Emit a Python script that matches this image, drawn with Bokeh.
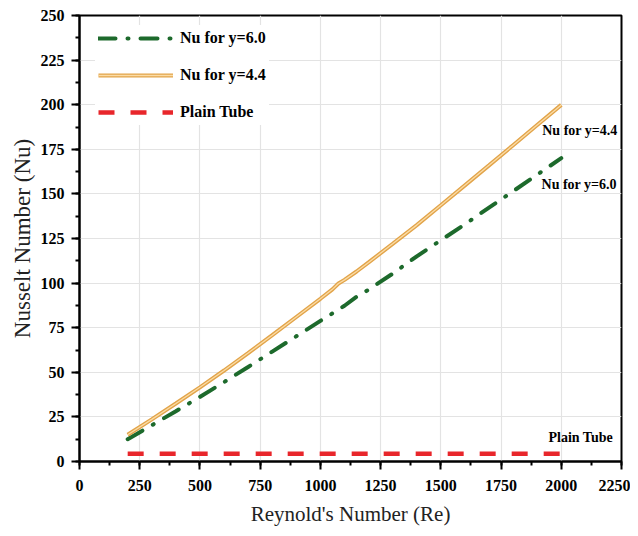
from bokeh.plotting import figure
from bokeh.models import (Legend, LegendItem, Label, SingleIntervalTicker, Range1d)
from bokeh.embed import file_html
from bokeh.resources import INLINE

# ---- data ----
re_44 = [200, 300, 400, 500, 600, 700, 800, 900, 1000, 1050, 1075, 1100, 1150,
         1200, 1300, 1400, 1500, 1600, 1700, 1800, 1900, 2000]
nu_44 = [15, 23.6, 32.5, 41.6, 51, 60.8, 70.8, 81, 91.2, 96.5, 99.8, 101.8, 106.5,
         111.6, 122, 132.5, 143.6, 154.8, 166, 177.3, 188.6, 199.9]

re_60 = [200, 300, 400, 500, 600, 700, 800, 900, 1000, 1100, 1150, 1200, 1300,
         1400, 1500, 1600, 1700, 1800, 1900, 2000]
nu_60 = [12.5, 20.3, 28.2, 36.2, 44.5, 53, 61.6, 70.2, 78.8, 87.3, 92.3, 96.3, 105.3,
         115, 124, 133, 142.3, 151.5, 160.8, 170]

re_plain = [200, 2000]
nu_plain = [4.36, 4.36]

series_labels = ["Nu for y=6.0", "Nu for y=4.4", "Plain Tube"]

SERIF = "Liberation Serif"

p = figure(width=630, height=528, output_backend="svg", toolbar_location=None,
           x_range=Range1d(0, 2250), y_range=Range1d(0, 250),
           min_border_left=79, min_border_right=9, min_border_top=15,
           min_border_bottom=64)

p.background_fill_color = "white"
p.border_fill_color = "white"
p.outline_line_color = "black"
p.outline_line_width = 2

# lines
g = p.line(re_60, nu_60, line_color="#1d6a2c", line_width=4,
           line_dash="17 12 1 12", line_cap="round")
o1 = p.line(re_44, nu_44, line_color="#e2a44a", line_width=4)
o2 = p.line(re_44, nu_44, line_color="#fbdca6", line_width=1.3)
r = p.line(re_plain, nu_plain, line_color="#e8262b", line_width=4.5,
           line_dash="16 16")

# axes
for ax in (p.xaxis[0], p.yaxis[0]):
    ax.axis_line_width = 2
    ax.axis_line_color = "black"
    ax.major_tick_line_width = 2
    ax.major_tick_line_color = "black"
    ax.minor_tick_line_width = 2
    ax.minor_tick_line_color = "black"
    ax.major_tick_in = 0
    ax.major_tick_out = 8
    ax.minor_tick_in = 0
    ax.minor_tick_out = 4
    ax.major_label_text_font = SERIF
    ax.major_label_text_font_style = "bold"
    ax.major_label_text_font_size = "16px"
    ax.major_label_text_color = "black"
    ax.axis_label_text_font = SERIF
    ax.axis_label_text_font_style = "normal"
    ax.axis_label_text_color = "#222222"

p.xaxis[0].axis_label_text_font_size = "21px"
p.yaxis[0].axis_label_text_font_size = "23px"

p.xaxis[0].ticker = SingleIntervalTicker(interval=250, num_minor_ticks=2)
p.yaxis[0].ticker = SingleIntervalTicker(interval=25, num_minor_ticks=2)
p.xaxis[0].axis_label = "Reynold's Number (Re)"
p.yaxis[0].axis_label = "Nusselt Number (Nu)"
p.xaxis[0].major_label_standoff = 10
p.yaxis[0].major_label_standoff = 7
p.xaxis[0].axis_label_standoff = 8
p.yaxis[0].axis_label_standoff = 3

p.xgrid.grid_line_color = "#e3e3e3"
p.ygrid.grid_line_color = "#e3e3e3"
p.xgrid.grid_line_width = 1.2
p.ygrid.grid_line_width = 1.2

legend = Legend(items=[
    LegendItem(label=series_labels[0], renderers=[g]),
    LegendItem(label=series_labels[1], renderers=[o1, o2]),
    LegendItem(label=series_labels[2], renderers=[r]),
], location=(16, 336))
legend.margin = 0
legend.padding = 3
legend.spacing = 17
legend.glyph_width = 75
legend.glyph_height = 20
legend.label_height = 20
legend.label_standoff = 7
legend.label_text_font = SERIF
legend.label_text_font_style = "bold"
legend.label_text_font_size = "16px"
legend.label_text_color = "black"
legend.border_line_alpha = 0
legend.background_fill_color = "white"
legend.background_fill_alpha = 1
p.add_layout(legend)

for txt, xx, yy in [("Nu for y=4.4", 1921, 185.4),
                    ("Nu for y=6.0", 1918, 155.3),
                    ("Plain Tube", 1947, 13.4)]:
    p.add_layout(Label(x=xx, y=yy, text=txt, text_font=SERIF,
                       text_font_style="bold", text_font_size="14px",
                       text_color="black", text_baseline="middle",
                       text_align="left"))

open("out.html", "w").write(file_html(p, INLINE))
